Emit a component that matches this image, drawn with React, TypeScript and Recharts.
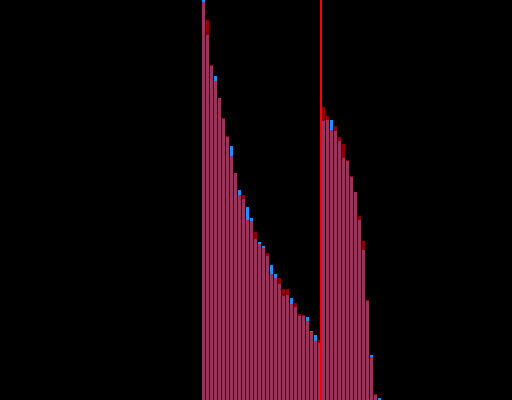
import { BarChart, Bar, XAxis, YAxis, ReferenceLine } from 'recharts';

// histogram bins (no axes are shown in the picture)
const bins = [
  0, 1, 2, 3, 4, 5, 6, 7, 8, 9, 10, 11, 12, 13, 14, 15, 16, 17, 18, 19, 20, 21, 22,
  23, 24, 25, 26, 27, 28, 29, 30, 31, 32, 33, 34, 35, 36, 37, 38, 39, 40, 41, 42, 43, 44,
];

const blueCounts = [
  400, 365, 334, 324, 302, 281, 263, 254, 227, 210, 201, 193, 182, 161, 158, 154, 144, 135, 126, 116, 104, 105, 102,
  93, 84, 84, 83, 69, 65, 57, 279, 280, 280, 269, 259, 242, 239, 223, 208, 180, 150, 99, 45, 5, 2,
];

const redCounts = [
  398, 380, 335, 319, 302, 282, 264, 244, 227, 205, 205, 180, 179, 168, 156, 152, 147, 126, 122, 122, 111, 111, 96,
  97, 86, 85, 79, 68, 59, 60, 293, 284, 270, 274, 263, 256, 240, 224, 208, 184, 159, 100, 43, 6, 0,
];

const splitBin = 30;

const data = bins.map((bin, i) => ({ bin, blue: blueCounts[i], red: redCounts[i] }));

export default function App() {
  return (
    <div style={{ position: 'absolute', left: 0, top: 0, width: 512, height: 400, background: '#000' }}>
      <BarChart width={512} height={400} data={data} margin={{ top: 0, right: 131, bottom: 0, left: 201 }}>
        <XAxis xAxisId="a" dataKey="bin" hide />
        <XAxis xAxisId="b" dataKey="bin" hide />
        <YAxis domain={[0, 400]} allowDataOverflow hide />
        <Bar xAxisId="a" dataKey="blue" fill="#1e90ff" barSize={3} isAnimationActive={false} />
        <Bar xAxisId="b" dataKey="red" fill="#e00000" fillOpacity={0.64} barSize={3} isAnimationActive={false} />
        <ReferenceLine xAxisId="a" x={splitBin} position="start" stroke="#ff0000" strokeWidth={2} />
      </BarChart>
    </div>
  );
}
